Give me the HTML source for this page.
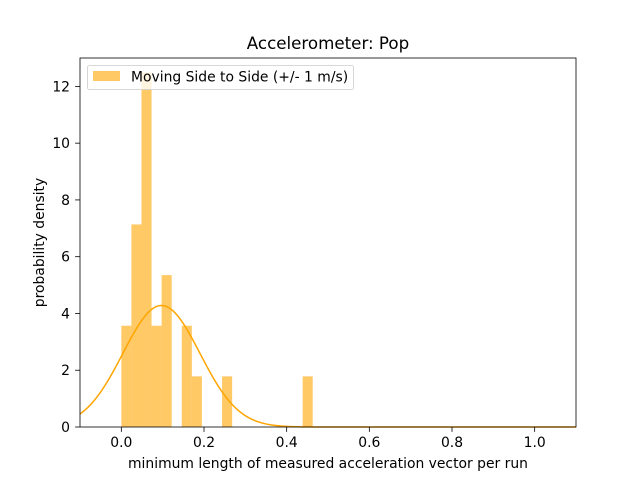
<!DOCTYPE html>
<html><head><meta charset="utf-8"><style>
body{margin:0;background:#fff}
svg{display:block;font-family:"DejaVu Sans","Liberation Sans",sans-serif}
</style></head><body>
<svg id="chart" width="640" height="480" viewBox="0 0 640 480">
<rect width="640" height="480" fill="#fff"/>
<g id="plot"></g>
</svg>
<script>
const binCounts=[2,4,7,2,3,0,2,1,0,0,1,0,0,0,0,0,0,0,1];
const binStart=[0];
const binWidth=[0.02437];
const fitMean=[0.097];
const fitSd=[0.0932];
const xTicks=[0.0,0.2,0.4,0.6,0.8,1.0];
const xTickLabels=["0.0","0.2","0.4","0.6","0.8","1.0"];
const yTicks=[0,2,4,6,8,10,12];
const xDomain=[-0.1,1.1];
const yDomain=[0,13];

const L=80,R=576,T=58,B=427;
const X=v=>L+(v-xDomain[0])/(xDomain[1]-xDomain[0])*(R-L);
const Y=v=>B-(v-yDomain[0])/(yDomain[1]-yDomain[0])*(B-T);
const NS="http://www.w3.org/2000/svg";
const g=document.getElementById('plot');
function mk(tag,attrs,parent){const e=document.createElementNS(NS,tag);for(const k in attrs)e.setAttribute(k,attrs[k]);(parent||g).appendChild(e);return e;}
const n=binCounts.reduce((a,b)=>a+b,0);
const w=binWidth[0];
binCounts.forEach((c,i)=>{
  if(!c)return;
  const d=c/(n*w);
  const x0=X(binStart[0]+i*w),x1=X(binStart[0]+(i+1)*w);
  const r=mk('rect',{x:x0,y:Y(d),width:x1-x0,height:B-Y(d),fill:'#ffa500','fill-opacity':0.6});
  
  
});
let pts=[];
for(let i=0;i<=400;i++){const v=xDomain[0]+(xDomain[1]-xDomain[0])*i/400;
 const y=Math.exp(-0.5*((v-fitMean[0])/fitSd[0])**2)/(fitSd[0]*Math.sqrt(2*Math.PI));
 pts.push(X(v).toFixed(2)+','+Y(y).toFixed(2));}
const pl=mk('polyline',{points:pts.join(' '),fill:'none',stroke:'#ffa500','stroke-width':1.5});


const fr=mk('rect',{x:L,y:T,width:R-L,height:B-T,fill:'none',stroke:'#000','stroke-width':0.8});


xTicks.forEach((t,i)=>{
  const tk=mk('line',{x1:X(t),x2:X(t),y1:B,y2:B+4.9,stroke:'#000','stroke-width':0.8});
  
  
  const tx=mk('text',{x:X(t),y:B+20,'text-anchor':'middle','font-size':13.9,fill:'#000'});
  tx.textContent=xTickLabels[i];
  
  
});
yTicks.forEach(t=>{
  const tk=mk('line',{x1:L-4.9,x2:L,y1:Y(t),y2:Y(t),stroke:'#000','stroke-width':0.8});
  
  
  const tx=mk('text',{x:L-10,y:Y(t)+5,'text-anchor':'end','font-size':13.9,fill:'#000'});
  tx.textContent=String(t);
  
  
});
</script>
<svg style="position:absolute;left:0;top:0" width="640" height="480">
<text x="328" y="49" text-anchor="middle" font-size="16.7" fill="#000">Accelerometer: Pop</text>
<text x="328" y="468" text-anchor="middle" font-size="13.9" fill="#000">minimum length of measured acceleration vector per run</text>
<text x="44" y="242.5" text-anchor="middle" font-size="13.9" fill="#000" transform="rotate(-90 44 242.5)">probability density</text>
<g>
<rect x="87.5" y="65.5" width="266" height="24" rx="2" fill="#fff" fill-opacity="0.8" stroke="#ccc" stroke-width="0.8"/>
<rect x="93" y="71" width="27" height="10" fill="#ffa500" fill-opacity="0.6"/>
<text x="131" y="81.5" font-size="13.9" fill="#000">Moving Side to Side (+/- 1 m/s)</text>
</g>
</svg>
</body></html>
